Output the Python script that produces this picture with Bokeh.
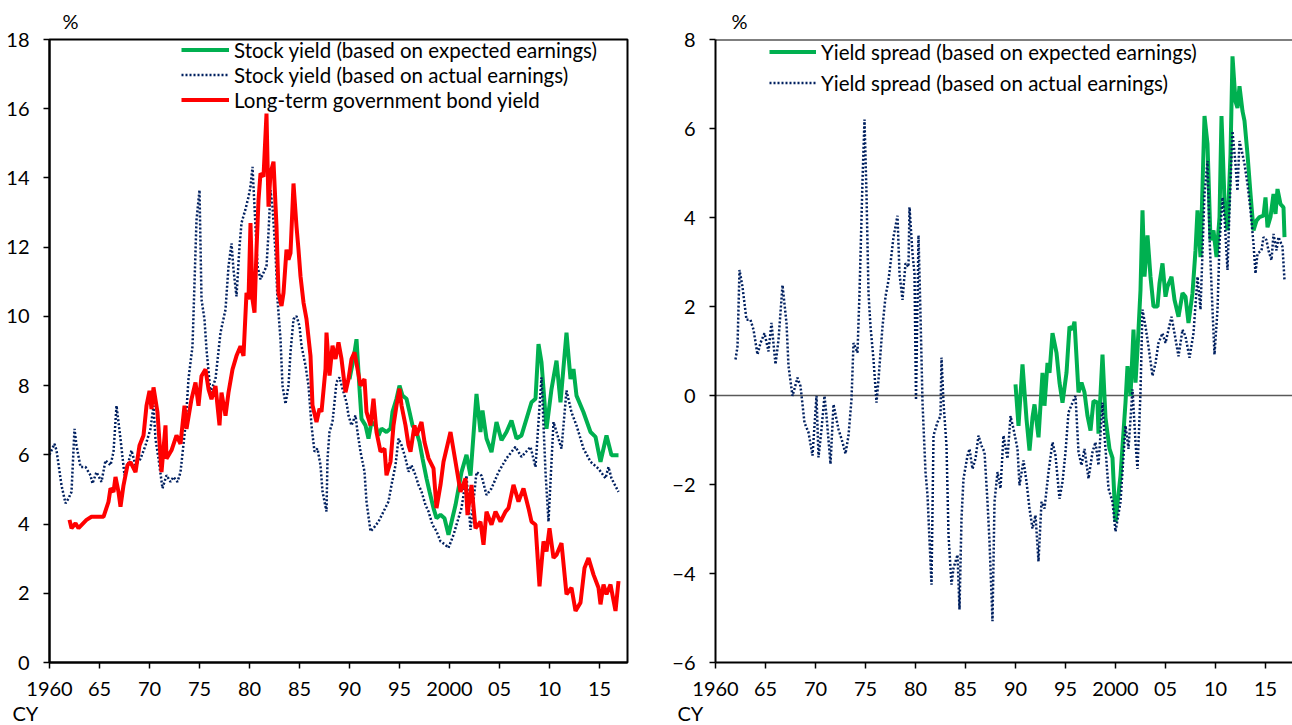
from bokeh.plotting import figure
from bokeh.layouts import row
from bokeh.models import (Range1d, FixedTicker, Legend, LegendItem, Span, Title)
from bokeh.embed import file_html
from bokeh.resources import INLINE

# ---------------- data ----------------
# Left panel: stock yield based on expected earnings (%)
stock_exp_t = [1990.0, 1990.4, 1990.7, 1991.0, 1991.2, 1991.6, 1991.9, 1992.2, 1992.6, 1992.9,
               1993.2, 1993.7, 1994.1, 1994.3, 1994.7, 1995.0, 1995.3, 1995.7, 1996.0, 1996.3,
               1996.7, 1997.0, 1997.3, 1997.7, 1998.0, 1998.4, 1998.7, 1999.1, 1999.5, 1999.9,
               2000.6, 2001.2, 2001.7, 2002.1, 2002.7, 2003.1, 2003.3, 2003.7, 2004.2, 2004.7,
               2005.2, 2005.7, 2006.2, 2006.7, 2007.2, 2007.7, 2008.2, 2008.6, 2008.9, 2009.2,
               2009.7, 2010.2, 2010.7, 2011.1, 2011.7, 2012.1, 2012.4, 2012.7, 2013.4, 2014.1,
               2014.6, 2015.1, 2015.7, 2016.2, 2016.9]
stock_exp = [8.19, 8.77, 9.34, 7.91, 7.04, 6.85, 6.47, 6.95, 6.85, 6.56,
             6.76, 6.66, 6.76, 7.24, 7.62, 8.0, 7.71, 7.62, 7.24, 6.85,
             6.66, 6.37, 5.9, 5.32, 4.94, 4.46, 4.17, 4.27, 4.17, 3.69,
             4.55, 5.5, 6.0, 5.4, 7.76, 6.66, 7.28, 6.47, 6.08, 6.95,
             6.42, 6.66, 6.99, 6.47, 6.56, 7.04, 7.52, 7.62, 9.2, 8.67,
             6.75, 7.9, 8.72, 7.52, 9.53, 8.19, 8.48, 7.71, 7.23, 6.66,
             6.52, 5.8, 6.56, 5.99, 5.99]

# Left panel: stock yield based on actual earnings (%)
stock_act_t = [1960.0, 1960.5, 1960.7, 1961.2, 1961.6, 1961.9, 1962.2, 1962.5, 1962.7, 1963.1,
               1963.6, 1964.1, 1964.3, 1964.7, 1965.2, 1965.6, 1966.1, 1966.4, 1966.7, 1967.1,
               1967.5, 1967.9, 1968.2, 1968.6, 1969.1, 1969.6, 1970.1, 1970.4, 1970.6, 1970.9,
               1971.3, 1971.7, 1972.1, 1972.4, 1972.8, 1973.1, 1973.6, 1973.9, 1974.3, 1974.7,
               1975.0, 1975.2, 1975.5, 1975.7, 1976.1, 1976.6, 1977.1, 1977.6, 1977.9, 1978.2,
               1978.4, 1978.7, 1979.0, 1979.2, 1979.6, 1979.9, 1980.1, 1980.3, 1980.6, 1980.8,
               1981.1, 1981.4, 1981.7, 1981.9, 1982.1, 1982.3, 1982.6, 1982.8, 1983.1, 1983.3,
               1983.6, 1983.9, 1984.1, 1984.4, 1984.7, 1985.0, 1985.2, 1985.6, 1985.9, 1986.2,
               1986.5, 1986.8, 1987.1, 1987.3, 1987.7, 1987.8, 1988.0, 1988.3, 1988.7, 1989.0,
               1989.3, 1989.7, 1989.9, 1990.2, 1990.6, 1990.8, 1991.1, 1991.5, 1991.7, 1992.1,
               1992.4, 1992.9, 1993.4, 1993.9, 1994.2, 1994.6, 1994.9, 1995.2, 1995.6, 1995.9,
               1996.2, 1996.6, 1996.9, 1997.2, 1997.6, 1997.9, 1998.3, 1998.7, 1999.1, 1999.6,
               1999.9, 2000.4, 2001.2, 2001.7, 2002.1, 2002.7, 2003.2, 2003.7, 2004.2, 2004.9,
               2005.7, 2006.6, 2007.2, 2008.1, 2008.6, 2008.9, 2009.2, 2009.6, 2009.9, 2010.4,
               2010.9, 2011.2, 2011.7, 2012.2, 2012.7, 2013.4, 2014.1, 2014.9, 2015.6, 2015.9,
               2016.2, 2016.9]
stock_act = [6.0, 6.32, 6.13, 5.12, 4.6, 4.74, 4.93, 6.75, 6.27, 5.65,
             5.65, 5.41, 5.17, 5.5, 5.22, 5.84, 5.7, 6.08, 7.42, 6.46,
             5.41, 5.79, 6.13, 5.7, 5.89, 6.27, 6.75, 7.42, 6.46, 5.89,
             5.03, 5.41, 5.22, 5.36, 5.22, 5.5, 6.85, 8.19, 9.14, 12.78,
             13.65, 10.49, 9.91, 9.05, 7.8, 8.19, 9.53, 10.2, 11.44, 12.11,
             11.35, 10.58, 12.02, 12.7, 13.1, 13.45, 13.75, 14.32, 12.6, 11.45,
             11.07, 11.26, 11.45, 12.41, 13.65, 13.17, 11.83, 10.49, 9.34, 8.0,
             7.47, 8.0, 8.96, 9.92, 10.01, 9.72, 9.15, 8.58, 8.0, 6.85,
             6.09, 6.18, 5.7, 4.94, 4.36, 5.89, 6.66, 6.95, 8.1, 8.24,
             7.91, 7.52, 7.14, 6.85, 7.14, 6.66, 6.09, 5.51, 4.65, 3.79,
             3.88, 4.07, 4.36, 4.65, 5.13, 5.7, 6.47, 6.28, 5.9, 5.51,
             5.7, 5.41, 5.13, 4.94, 4.55, 4.36, 3.98, 3.79, 3.5, 3.4,
             3.31, 3.69, 4.46, 5.4, 3.83, 5.5, 5.4, 4.84, 5.03, 5.5,
             5.9, 6.23, 5.94, 6.23, 5.65, 6.95, 8.24, 5.5, 4.07, 6.95,
             6.47, 6.18, 7.86, 7.23, 6.85, 6.18, 5.8, 5.6, 5.32, 5.65,
             5.32, 4.93]

# Left panel: long-term government bond yield (%)
bond_t = [1962.0, 1962.2, 1962.6, 1962.9, 1963.7, 1964.2, 1965.4, 1965.9, 1966.1, 1966.4,
          1966.6, 1966.9, 1967.1, 1967.4, 1967.8, 1968.1, 1968.6, 1969.0, 1969.4, 1969.7,
          1970.0, 1970.2, 1970.4, 1970.8, 1971.2, 1971.6, 1971.7, 1972.2, 1972.7, 1973.1,
          1973.5, 1973.7, 1974.2, 1974.6, 1974.9, 1975.2, 1975.6, 1975.9, 1976.2, 1976.6,
          1977.0, 1977.2, 1977.6, 1977.9, 1978.3, 1978.7, 1979.1, 1979.4, 1979.7, 1979.9,
          1980.1, 1980.3, 1980.5, 1980.7, 1980.9, 1981.1, 1981.4, 1981.7, 1981.9, 1982.1,
          1982.4, 1982.7, 1982.9, 1983.2, 1983.4, 1983.7, 1983.9, 1984.1, 1984.4, 1984.7,
          1984.9, 1985.1, 1985.4, 1985.7, 1986.1, 1986.3, 1986.7, 1987.0, 1987.2, 1987.6,
          1987.7, 1988.0, 1988.3, 1988.6, 1988.9, 1989.2, 1989.6, 1989.9, 1990.2, 1990.5,
          1990.8, 1991.1, 1991.5, 1991.7, 1992.1, 1992.4, 1992.7, 1993.1, 1993.5, 1993.7,
          1994.1, 1994.4, 1994.7, 1995.0, 1995.2, 1995.6, 1995.9, 1996.1, 1996.5, 1996.7,
          1997.2, 1997.5, 1997.9, 1998.4, 1998.7, 1999.1, 1999.4, 2000.1, 2000.6, 2001.1,
          2001.6, 2001.8, 2002.2, 2002.6, 2003.1, 2003.4, 2003.7, 2004.2, 2004.6, 2005.1,
          2005.6, 2005.9, 2006.4, 2006.9, 2007.4, 2007.9, 2008.2, 2008.6, 2009.0, 2009.4,
          2009.7, 2010.0, 2010.4, 2010.7, 2011.2, 2011.7, 2012.2, 2012.6, 2013.1, 2013.5,
          2013.9, 2014.4, 2014.9, 2015.1, 2015.4, 2015.7, 2016.1, 2016.6, 2016.9]
bond = [4.12, 3.88, 4.02, 3.88, 4.12, 4.21, 4.21, 4.64, 5.03, 4.93,
        5.36, 4.93, 4.5, 5.12, 5.7, 5.79, 5.5, 6.27, 6.56, 7.42,
        7.85, 7.32, 7.95, 7.23, 5.5, 6.85, 5.89, 6.13, 6.56, 6.32,
        7.42, 6.75, 7.61, 8.09, 7.42, 8.28, 8.47, 7.9, 7.61, 7.99,
        6.85, 7.8, 7.13, 7.8, 8.47, 8.86, 9.14, 8.86, 10.68, 10.49,
        12.7, 10.49, 10.11, 11.93, 13.36, 14.13, 14.04, 15.86, 13.17, 14.13,
        14.47, 12.6, 10.68, 10.3, 10.68, 11.93, 11.64, 11.83, 13.84, 12.6,
        11.93, 11.16, 10.4, 9.92, 8.86, 7.43, 6.95, 7.33, 7.24, 8.48,
        9.53, 8.29, 9.15, 8.77, 9.25, 8.77, 7.81, 8.19, 8.77, 8.96,
        8.48, 8.0, 8.19, 7.24, 6.85, 7.62, 6.66, 6.09, 6.18, 5.41,
        5.8, 6.85, 7.43, 7.91, 7.43, 6.85, 6.28, 6.09, 6.85, 6.56,
        6.95, 6.37, 5.9, 5.61, 4.46, 5.13, 5.8, 6.66, 5.8, 4.93,
        5.32, 4.26, 5.13, 3.88, 4.07, 3.4, 4.36, 3.98, 4.36, 4.07,
        4.36, 4.46, 5.13, 4.65, 5.03, 4.46, 4.07, 3.98, 2.2, 3.5,
        3.21, 3.88, 3.02, 3.11, 3.45, 1.97, 2.16, 1.49, 1.73, 2.73,
        3.02, 2.54, 2.16, 1.68, 2.25, 1.97, 2.25, 1.49, 2.35]

# Right panel: yield spread based on expected earnings (% points)
spread_exp_t = [1990.0, 1990.3, 1990.7, 1991.1, 1991.4, 1991.7, 1991.9, 1992.3, 1992.7, 1992.9,
                1993.2, 1993.4, 1993.7, 1994.1, 1994.4, 1994.7, 1995.1, 1995.4, 1995.7, 1995.9,
                1996.3, 1996.6, 1996.9, 1997.2, 1997.5, 1997.8, 1998.2, 1998.3, 1998.7, 1999.0,
                1999.4, 1999.7, 2000.0, 2000.5, 2001.0, 2001.2, 2001.5, 2001.8, 2002.0, 2002.2,
                2002.5, 2002.7, 2002.9, 2003.2, 2003.5, 2003.8, 2004.2, 2004.4, 2004.7, 2005.0,
                2005.2, 2005.6, 2005.9, 2006.3, 2006.7, 2007.0, 2007.3, 2007.7, 2008.0, 2008.2,
                2008.5, 2008.9, 2009.2, 2009.5, 2009.8, 2010.1, 2010.4, 2010.6, 2010.9, 2011.2,
                2011.5, 2011.7, 2012.0, 2012.2, 2012.4, 2012.7, 2012.9, 2013.2, 2013.5, 2013.8,
                2014.1, 2014.4, 2014.8, 2015.0, 2015.2, 2015.5, 2015.8, 2016.0, 2016.2, 2016.5,
                2016.8, 2016.9]
spread_exp = [0.25, -0.68, 0.7, -0.53, -1.24, -0.49, -0.2, -0.94, 0.51, -0.23,
              0.73, 0.51, 1.4, 0.96, 0.29, -0.16, 0.51, 1.55, 1.48, 1.66,
              0.07, 0.29, 0.07, -0.46, -0.79, -0.12, -0.16, -0.86, 0.92, -0.5,
              -1.2, -1.4, -2.84, -1.8, -0.16, 0.66, -0.01, 1.48, 0.29, 1.03,
              2.37, 4.16, 2.67, 3.6, 2.67, 2.0, 2.0, 2.52, 2.97, 2.22,
              2.45, 2.67, 2.15, 1.77, 2.3, 2.22, 1.63, 2.3, 3.26, 4.16,
              3.11, 6.28, 5.65, 3.49, 3.71, 3.11, 4.01, 6.28, 4.38, 3.71,
              5.42, 7.62, 6.61, 6.46, 6.95, 6.39, 6.17, 5.42, 4.53, 3.71,
              3.93, 4.01, 4.04, 4.45, 3.78, 4.01, 4.53, 4.08, 4.64, 4.3,
              4.23, 3.56]

# Right panel: yield spread based on actual earnings (% points)
spread_act_t = [1962.0, 1962.2, 1962.4, 1962.7, 1963.1, 1963.5, 1963.8, 1964.2, 1964.5, 1964.9,
                1965.3, 1965.6, 1966.0, 1966.3, 1966.7, 1967.1, 1967.3, 1967.7, 1968.2, 1968.5,
                1968.9, 1969.3, 1969.7, 1970.1, 1970.3, 1970.6, 1970.9, 1971.1, 1971.5, 1971.8,
                1972.3, 1972.7, 1973.0, 1973.3, 1973.6, 1973.8, 1974.2, 1974.4, 1974.7, 1974.9,
                1975.1, 1975.3, 1975.5, 1975.8, 1976.1, 1976.3, 1976.7, 1977.0, 1977.3, 1977.5,
                1977.8, 1978.2, 1978.4, 1978.7, 1979.0, 1979.3, 1979.4, 1979.7, 1979.9, 1980.05,
                1980.3, 1980.5, 1980.7, 1981.0, 1981.2, 1981.6, 1981.8, 1982.2, 1982.5, 1982.6,
                1982.8, 1983.1, 1983.3, 1983.6, 1983.8, 1984.2, 1984.4, 1984.6, 1984.8, 1985.2,
                1985.4, 1985.7, 1986.0, 1986.3, 1986.6, 1986.9, 1987.2, 1987.4, 1987.7, 1987.9,
                1988.2, 1988.5, 1988.8, 1989.2, 1989.5, 1989.8, 1990.2, 1990.4, 1990.8, 1991.1,
                1991.4, 1991.7, 1992.0, 1992.3, 1992.6, 1992.9, 1993.3, 1993.7, 1994.0, 1994.4,
                1994.7, 1995.0, 1995.3, 1995.7, 1996.0, 1996.3, 1996.6, 1996.9, 1997.3, 1997.7,
                1998.0, 1998.3, 1998.7, 1998.9, 1999.3, 1999.7, 2000.0, 2000.5, 2001.0, 2001.3,
                2001.7, 2002.0, 2002.2, 2002.5, 2002.7, 2003.0, 2003.3, 2003.7, 2004.0, 2004.3,
                2004.7, 2005.0, 2005.3, 2005.6, 2005.9, 2006.3, 2006.7, 2007.0, 2007.4, 2007.8,
                2008.2, 2008.5, 2008.9, 2009.2, 2009.4, 2009.7, 2009.9, 2010.2, 2010.4, 2010.7,
                2010.9, 2011.2, 2011.4, 2011.7, 2012.0, 2012.2, 2012.4, 2012.7, 2012.9, 2013.2,
                2013.5, 2013.8, 2014.0, 2014.2, 2014.6, 2014.8, 2015.1, 2015.3, 2015.6, 2015.8,
                2016.1, 2016.3, 2016.7, 2016.9]
spread_act = [0.81, 1.1, 2.82, 2.44, 1.7, 1.7, 1.48, 0.92, 1.18, 1.4,
              0.99, 1.63, 0.7, 1.25, 2.48, 1.63, 0.66, -0.01, 0.4, 0.21,
              -0.61, -0.83, -1.35, -0.01, -1.39, -0.76, -0.01, -0.46, -1.54, -0.2,
              -0.76, -1.05, -1.31, -0.9, -0.09, 1.18, 0.96, 2.3, 4.83, 6.2,
              4.53, 2.3, 1.55, 0.81, -0.16, 0.36, 1.55, 2.22, 2.59, 2.97,
              3.56, 4.04, 2.74, 2.15, 2.97, 2.89, 4.23, 3.19, 2.74, -0.1,
              3.6, 1.8, -0.16, -1.72, -2.24, -4.25, -0.9, -0.6, -0.46, 0.85,
              -0.16, -1.13, -3.13, -4.25, -3.88, -3.58, -4.81, -2.76, -1.87, -1.35,
              -1.2, -1.65, -1.42, -0.9, -1.13, -1.27, -2.39, -3.28, -5.07, -2.39,
              -1.72, -2.09, -0.9, -1.42, -0.46, -0.75, -1.2, -2.02, -1.46, -1.94,
              -2.54, -2.99, -2.69, -3.73, -2.39, -2.54, -1.72, -1.05, -1.35, -2.32,
              -1.94, -1.27, -0.38, -0.16, -0.01, -1.27, -1.57, -1.2, -1.87, -1.27,
              -1.05, -1.57, -0.16, -0.9, -2.09, -2.39, -3.06, -2.39, -0.68, -1.2,
              0.14, -1.05, -1.65, 0.07, 1.93, 1.55, 1.1, 0.44, 0.73, 1.18,
              1.4, 1.18, 1.48, 1.77, 1.4, 0.88, 1.48, 1.33, 0.85, 1.4,
              2.67, 1.93, 4.53, 5.27, 3.56, 1.93, 0.92, 1.93, 3.41, 4.45,
              4.01, 2.82, 4.16, 5.94, 5.2, 4.6, 5.72, 5.42, 5.2, 4.75,
              4.16, 3.41, 2.74, 3.19, 3.26, 3.56, 3.49, 3.26, 3.04, 3.63,
              3.26, 3.56, 3.34, 2.59]

x_ticks = [1960, 1965, 1970, 1975, 1980, 1985, 1990, 1995, 2000, 2005, 2010, 2015]
x_tick_labels = ["1960", "65", "70", "75", "80", "85", "90", "95", "2000", "05", "10", "15"]
left_y_ticks = [0, 2, 4, 6, 8, 10, 12, 14, 16, 18]
right_y_ticks = [-6, -4, -2, 0, 2, 4, 6, 8]

left_labels = ["Stock yield (based on expected earnings)",
               "Stock yield (based on actual earnings)",
               "Long-term government bond yield"]
right_labels = ["Yield spread (based on expected earnings)",
                "Yield spread (based on actual earnings)"]
unit_label = "%"
x_unit_label = "CY"

# ---------------- styling ----------------
FONT = "Lato"
FS = "20px"
LEG_FS = "20.5px"
GREEN = "#00B050"
NAVY = "#002060"
RED = "#FF0000"
H = 725
TOP = 35
BOTTOM = 63


def style(p, yticks, pct_offset, cy_offset):
    p.xgrid.visible = False
    p.ygrid.visible = False
    p.background_fill_color = "white"
    p.border_fill_color = "white"
    p.xaxis.ticker = FixedTicker(ticks=x_ticks)
    p.xaxis.major_label_overrides = {t: s for t, s in zip(x_ticks, x_tick_labels)}
    p.yaxis.ticker = FixedTicker(ticks=yticks)
    for ax in (p.xaxis[0], p.yaxis[0]):
        ax.axis_line_color = "black"
        ax.axis_line_width = 2
        ax.major_tick_line_color = "black"
        ax.major_tick_line_width = 1.5
        ax.major_tick_in = 0
        ax.major_tick_out = 6
        ax.minor_tick_line_color = None
        ax.major_label_text_font = FONT
        ax.major_label_text_font_size = FS
        ax.major_label_text_color = "black"
    p.yaxis.major_label_standoff = 14
    p.xaxis.major_label_standoff = 13
    # "%" above the value axis
    p.title.text = unit_label
    p.title.align = "left"
    p.title.offset = pct_offset
    p.title.standoff = 13
    p.title.text_font = FONT
    p.title.text_font_size = FS
    p.title.text_font_style = "normal"
    p.title.text_color = "black"
    # "CY" under the first year label
    p.add_layout(Title(text=x_unit_label, align="left", offset=cy_offset, standoff=0,
                       text_font=FONT, text_font_size=FS, text_font_style="normal",
                       text_color="black"), "below")


def style_legend(lg, gw, spacing):
    lg.label_text_font = FONT
    lg.label_text_font_size = LEG_FS
    lg.label_text_color = "black"
    lg.label_standoff = 5
    lg.glyph_width = gw
    lg.glyph_height = 25
    lg.label_height = 25
    lg.spacing = spacing
    lg.padding = 0
    lg.margin = 0
    lg.border_line_color = None
    lg.background_fill_alpha = 0


# ---------------- left panel ----------------
p1 = figure(width=660, height=H, x_range=Range1d(1960, 2017.8), y_range=Range1d(0, 18),
            output_backend="svg", toolbar_location=None,
            min_border_left=49, min_border_right=33, min_border_top=TOP, min_border_bottom=BOTTOM)
style(p1, left_y_ticks, 13, -37)
p1.outline_line_color = "black"
p1.outline_line_width = 2
p1.outline_line_alpha = 1

r_g = p1.line(stock_exp_t, stock_exp, line_color=GREEN, line_width=4)
r_n = p1.line(stock_act_t, stock_act, line_color=NAVY, line_width=2.5, line_dash="2 2")
r_r = p1.line(bond_t, bond, line_color=RED, line_width=4)

leg1 = Legend(items=[LegendItem(label=left_labels[0], renderers=[r_g]),
                     LegendItem(label=left_labels[1], renderers=[r_n]),
                     LegendItem(label=left_labels[2], renderers=[r_r])],
              location=(132, 550))
style_legend(leg1, 48, 0)
p1.add_layout(leg1)

# ---------------- right panel ----------------
p2 = figure(width=632, height=H, x_range=Range1d(1960, 2017.7), y_range=Range1d(-6, 8),
            output_backend="svg", toolbar_location=None,
            min_border_left=55, min_border_right=0, min_border_top=TOP, min_border_bottom=BOTTOM)
style(p2, right_y_ticks, 16, -38)
p2.outline_line_color = None
p2.add_layout(Span(location=0, dimension="width", line_color="#595959", line_width=1.5,
                   level="underlay"))
p2.add_layout(Span(location=8, dimension="width", line_color="black", line_width=2))

s_g = p2.line(spread_exp_t, spread_exp, line_color=GREEN, line_width=4)
s_n = p2.line(spread_act_t, spread_act, line_color=NAVY, line_width=2.5, line_dash="2 2")

leg2 = Legend(items=[LegendItem(label=right_labels[0], renderers=[s_g]),
                     LegendItem(label=right_labels[1], renderers=[s_n])],
              location=(54, 567))
style_legend(leg2, 47, 6)
p2.add_layout(leg2)

layout = row(p1, p2)
open("out.html", "w").write(file_html(layout, INLINE))
